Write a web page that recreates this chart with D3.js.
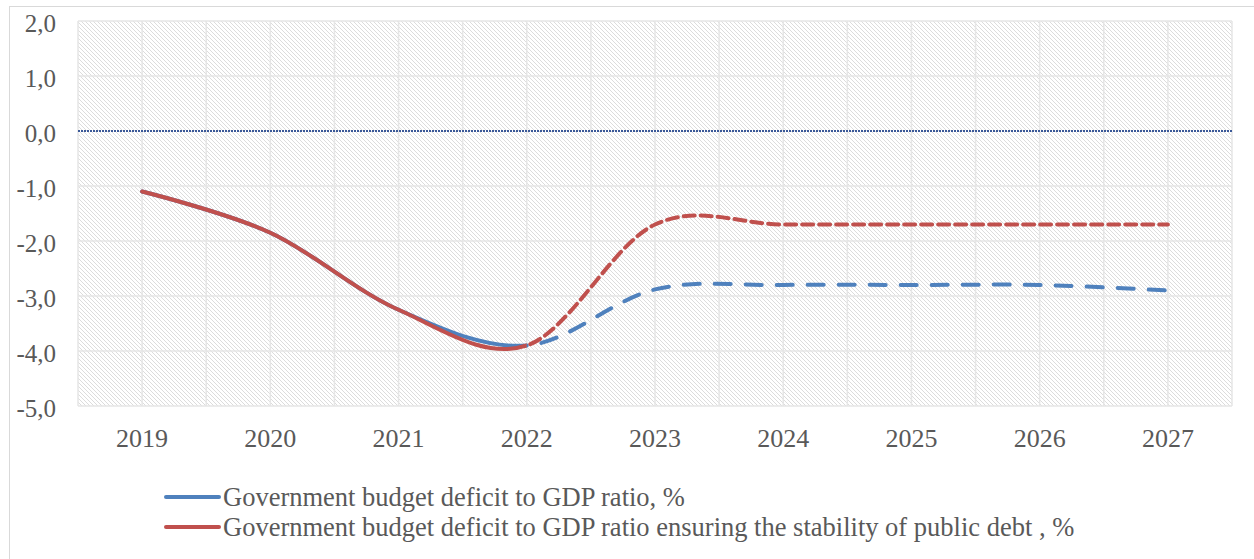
<!DOCTYPE html>
<html>
<head>
<meta charset="utf-8">
<script src="https://cdn.jsdelivr.net/npm/d3@7"></script>
<style>
  html, body { margin: 0; padding: 0; background: #fff; }
  svg { display: block; }
  text { font-family: "Liberation Serif", "Times New Roman", serif; fill: #595959; }
</style>
</head>
<body>
<svg id="chart" width="1254" height="559"></svg>
<script>
// Years on the category axis
const years = ["2019", "2020", "2021", "2022", "2023", "2024", "2025", "2026", "2027"];
// Government budget deficit to GDP ratio, %
const deficitActual = [-1.1, -1.85, -3.25, -3.9, -2.88, -2.8, -2.8, -2.8, -2.9];
// Deficit ratio ensuring the stability of public debt, %
const deficitStable = [-1.1, -1.85, -3.25, -3.9, -1.7, -1.7, -1.7, -1.7, -1.7];
// Value-axis ticks
const yTicks = [2, 1, 0, -1, -2, -3, -4, -5];
// Legend labels
const seriesNames = [
  "Government budget deficit to GDP ratio, %",
  "Government budget deficit to GDP ratio ensuring the stability of public debt , %"
];
// Index where the solid (reported) part ends and the dashed (forecast) part starts
const forecastFrom = 3;

const svg = d3.select("#chart");
const W = 1254, H = 559;
const plot = { left: 78, right: 1232, top: 21, bottom: 406 };

// Hatched plot-area fill
const defs = svg.append("defs");
const pat = defs.append("pattern")
  .attr("id", "hatch").attr("width", 4).attr("height", 4)
  .attr("patternUnits", "userSpaceOnUse");
pat.append("rect").attr("width", 4).attr("height", 4).attr("fill", "#ffffff");
[[0,0],[1,1],[2,2],[3,3]].forEach(([px, py]) =>
  pat.append("rect").attr("x", px).attr("y", py).attr("width", 1).attr("height", 1).attr("fill", "#dcdcdc"));

// Outer chart frame
svg.append("rect").attr("x", 9.5).attr("y", 6.5).attr("width", W).attr("height", H)
  .attr("fill", "none").attr("stroke", "#d9d9d9").attr("stroke-width", 1);

const x = d3.scaleBand().domain(years).range([plot.left, plot.right]).paddingInner(0).paddingOuter(0);
const cx = d => x(d) + x.bandwidth() / 2;
const y = d3.scaleLinear().domain([-5, 2]).range([plot.bottom, plot.top]);

svg.append("rect")
  .attr("x", plot.left).attr("y", plot.top)
  .attr("width", plot.right - plot.left).attr("height", plot.bottom - plot.top)
  .attr("fill", "url(#hatch)");

// Gridlines: vertical at category centres and band edges, horizontal at each unit
const grid = svg.append("g").attr("stroke", "#e6e6e6").attr("stroke-width", 1.5);
const vx = [];
years.forEach(yr => { vx.push(x(yr)); vx.push(cx(yr)); });
vx.push(plot.right);
grid.selectAll("line.v").data(vx).join("line")
  .attr("x1", d => d).attr("x2", d => d)
  .attr("y1", plot.top).attr("y2", plot.bottom);
grid.selectAll("line.h").data(yTicks.filter(t => t !== 0)).join("line")
  .attr("x1", plot.left).attr("x2", plot.right)
  .attr("y1", d => y(d)).attr("y2", d => y(d));

// Zero line
svg.append("line")
  .attr("x1", plot.left).attr("x2", plot.right)
  .attr("y1", y(0)).attr("y2", y(0))
  .attr("stroke", "#3b5998").attr("stroke-width", 2.2).attr("stroke-dasharray", "2,1");

// Value axis labels
const yAxis = d3.axisLeft(y).tickValues(yTicks)
  .tickFormat(d => d3.format(".1f")(d).replace(".", ",").replace("−", "-"))
  .tickSize(0).tickPadding(0);
svg.append("g").attr("transform", `translate(56,0)`).call(yAxis)
  .call(g => g.select(".domain").remove())
  .call(g => g.selectAll("text").attr("font-size", 25)
    .attr("font-family", "Liberation Serif").attr("fill", "#595959").attr("dy", "0.42em"));

// Category axis labels
const xAxis = d3.axisBottom(x).tickSize(0).tickPadding(0);
svg.append("g").attr("transform", `translate(0,${plot.bottom})`).call(xAxis)
  .call(g => g.select(".domain").remove())
  .call(g => g.selectAll("text").attr("font-size", 26)
    .attr("font-family", "Liberation Serif").attr("fill", "#595959").attr("dy", "1.58em"));

// Clip regions: reported part and forecast part
const xSplit = cx(years[forecastFrom]);
defs.append("clipPath").attr("id", "clipSolid").append("rect")
  .attr("x", 0).attr("y", 0).attr("width", xSplit).attr("height", H);
defs.append("clipPath").attr("id", "clipDash").append("rect")
  .attr("x", xSplit).attr("y", 0).attr("width", W - xSplit).attr("height", H);

const line = d3.line().x((d, i) => cx(years[i])).y(d => y(d)).curve(d3.curveCardinal.tension(0));

const series = [
  { values: deficitActual, color: "#4f81bd", dash: "16,15" },
  { values: deficitStable, color: "#c0504d", dash: "11,6" }
];

series.forEach(s => {
  svg.append("path").attr("d", line(s.values))
    .attr("fill", "none").attr("stroke", s.color).attr("stroke-width", 4)
    .attr("stroke-linecap", "round").attr("clip-path", "url(#clipSolid)");
});
series.forEach(s => {
  svg.append("path").attr("d", line(s.values))
    .attr("fill", "none").attr("stroke", s.color).attr("stroke-width", 4)
    .attr("stroke-linecap", "round").attr("stroke-dasharray", s.dash)
    .attr("clip-path", "url(#clipDash)");
});

// Legend
const legend = svg.append("g");
series.forEach((s, i) => {
  const ly = 497 + i * 30;
  legend.append("line").attr("x1", 166).attr("x2", 219).attr("y1", ly).attr("y2", ly)
    .attr("stroke", s.color).attr("stroke-width", 4).attr("stroke-linecap", "round");
  legend.append("text").attr("x", 223).attr("y", ly).attr("dy", "0.33em")
    .attr("font-size", 26.5).text(seriesNames[i]);
});
</script>
</body>
</html>
